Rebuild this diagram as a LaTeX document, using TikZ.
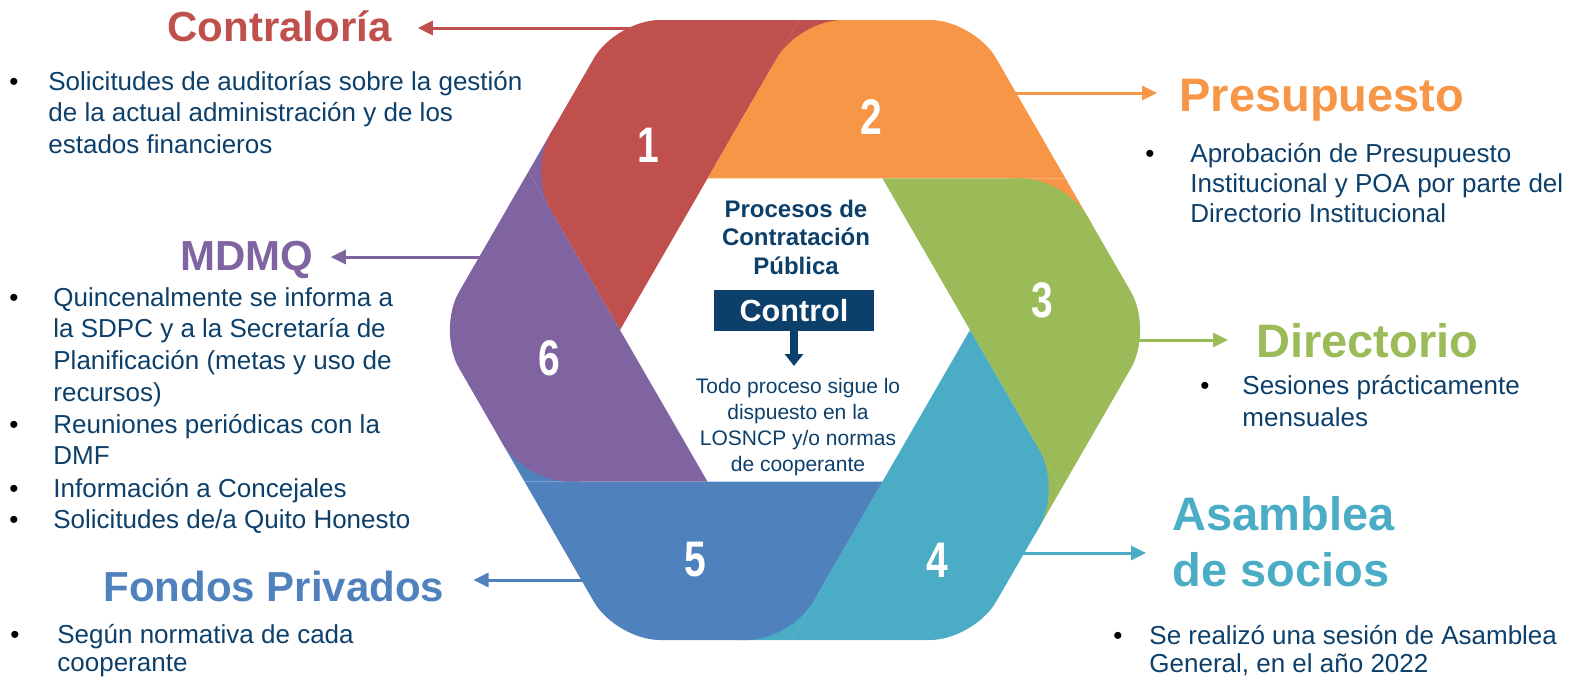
\documentclass[tikz,border=0pt]{standalone}
\usepackage{fontspec}
\setmainfont{Liberation Sans}
\newfontfamily\numfont[FakeStretch=0.78]{Liberation Sans}
\usetikzlibrary{calc,arrows.meta}
\definecolor{cA}{HTML}{C0504D}
\definecolor{cB}{HTML}{F79646}
\definecolor{cC}{HTML}{9BBB59}
\definecolor{cD}{HTML}{4BACC6}
\definecolor{cE}{HTML}{4F81BD}
\definecolor{cF}{HTML}{8064A2}
\definecolor{navy}{HTML}{0D3F6B}
\begin{document}
\begin{tikzpicture}[x=0.5pt,y=-0.5pt,
  lefttitle/.style={anchor=base west,inner sep=0pt,font=\fontsize{21}{25}\selectfont\bfseries},
  righttitle/.style={anchor=base west,inner sep=0pt,align=left,font=\fontsize{23.5}{28}\selectfont\bfseries},
  item/.style={anchor=base west,inner sep=0pt,align=left,text=navy,font=\fontsize{13}{15.8}\selectfont},
  dot/.style={anchor=base,inner sep=0pt,font=\fontsize{13}{15}\selectfont},
  link/.style={line width=1.5pt,-{Triangle[length=7.5pt,width=7pt]}},
  num/.style={text=white,font=\fontsize{25}{25}\selectfont\numfont\bfseries},
  band/.style={rounded corners=22pt}]
\useasboundingbox (0,0) rectangle (1575,680);

\node[lefttitle,text=cA] (contra) at (167,41) {Contraloría};
\node[lefttitle,text=cF] (mdmq) at (180,270) {MDMQ};
\node[lefttitle,text=cE] (fondos) at (103,601) {Fondos Privados};
\node[righttitle,text=cB] (presu) at (1179,111) {Presupuesto};
\node[righttitle,text=cC] (direc) at (1256,357) {Directorio};
\node[righttitle,text=cD] (asamb) at (1172,586) {Asamblea\\de socios};

\node[dot] (d1) at (14,90) {\textbullet};
\node[item] (t1) at (48,153.2) {Solicitudes de auditorías sobre la gestión\\de la actual administración y de los\\estados financieros};
\node[dot] (d2) at (14,306) {\textbullet};
\node[item,font=\fontsize{13}{15.9}\selectfont] (t2) at (53,401.4) {Quincenalmente se informa a\\la SDPC y a la Secretaría de\\Planificación (metas y uso de\\recursos)};
\node[dot] (d3) at (14,433) {\textbullet};
\node[item,font=\fontsize{13}{15.9}\selectfont] (t3) at (53,464.8) {Reuniones periódicas con la\\DMF};
\node[dot] (d4) at (14,497) {\textbullet};
\node[item] (t4) at (53,497) {Información a Concejales};
\node[dot] (d5) at (14,528) {\textbullet};
\node[item] (t5) at (53,528) {Solicitudes de/a Quito Honesto};
\node[dot] (d6) at (15,643) {\textbullet};
\node[item,font=\fontsize{13}{14}\selectfont] (t6) at (57,671) {Según normativa de cada\\cooperante};
\node[dot] (d7) at (1150,162) {\textbullet};
\node[item,font=\fontsize{13}{15}\selectfont] (t7) at (1190,222) {Aprobación de Presupuesto\\Institucional y POA por parte del\\Directorio Institucional};
\node[dot] (d8) at (1205,394) {\textbullet};
\node[item,font=\fontsize{13}{16}\selectfont] (t8) at (1242,426) {Sesiones prácticamente\\mensuales};
\node[dot] (d9) at (1118,644) {\textbullet};
\node[item,font=\fontsize{13}{14}\selectfont] (t9) at (1149,672) {Se realizó una sesión de Asamblea\\General, en el año 2022};

\coordinate (s1) at (660,28);
\coordinate (s2) at (1000,93);
\coordinate (s3) at (1120,340);
\coordinate (s4) at (1005,553);
\coordinate (s5) at (600,580);
\coordinate (s6) at (500,257);
\draw[link,cA,shorten >=13pt] (s1) -- (s1 -| contra.east);
\draw[link,cB,shorten >=11pt] (s2) -- (s2 -| presu.west);
\draw[link,cC,shorten >=14pt] (s3) -- (s3 -| direc.west);
\draw[link,cD,shorten >=13pt] (s4) -- (s4 -| asamb.west);
\draw[link,cE,shorten >=14.5pt] (s5) -- (s5 -| fondos.east);
\draw[link,cF,shorten >=8.5pt] (s6) -- (s6 -| mdmq.east);

\coordinate (L) at (620,330);
\coordinate (TL) at (707.5,178.4);
\coordinate (TR) at (882.5,178.4);
\coordinate (R) at (970,330);
\coordinate (BR) at (882.5,481.6);
\coordinate (BL) at (707.5,481.6);
\coordinate (Lo) at (437,330);
\coordinate (TLo) at (616,20);
\coordinate (TRo) at (974,20);
\coordinate (Ro) at (1153,330);
\coordinate (BRo) at (974,640);
\coordinate (BLo) at (616,640);
\coordinate (B1) at (528.5,171.5);
\coordinate (B2) at (799,20);
\coordinate (B3) at (1065.5,178.4);
\coordinate (B4) at (1061.5,488.5);
\coordinate (B5) at (791,640);
\coordinate (B6) at (524.5,481.6);

\fill[cF] (B1) -- ($(B1)!0.3!(TLo)$) -- ($(B1)!0.3!(L)$) -- cycle;
\fill[cA] (B2) -- ($(B2)!0.3!(TRo)$) -- ($(B2)!0.3!(TL)$) -- cycle;
\fill[cB] (B3) -- ($(B3)!0.3!(Ro)$) -- ($(B3)!0.3!(TR)$) -- cycle;
\fill[cC] (B4) -- ($(B4)!0.3!(BRo)$) -- ($(B4)!0.3!(R)$) -- cycle;
\fill[cD] (B5) -- ($(B5)!0.3!(BLo)$) -- ($(B5)!0.3!(BR)$) -- cycle;
\fill[cE] (B6) -- ($(B6)!0.3!(Lo)$) -- ($(B6)!0.3!(BL)$) -- cycle;

\fill[cA,band] ($(L)!0.5!(B1)$) -- (B1) -- (TLo) -- ($(TLo)!0.5!(B2)$) [sharp corners] -- (B2) -- (L) -- cycle;
\fill[cB,band] ($(TL)!0.5!(B2)$) -- (B2) -- (TRo) -- ($(TRo)!0.5!(B3)$) [sharp corners] -- (B3) -- (TL) -- cycle;
\fill[cC,band] ($(TR)!0.5!(B3)$) -- (B3) -- (Ro) -- ($(Ro)!0.5!(B4)$) [sharp corners] -- (B4) -- (TR) -- cycle;
\fill[cD,band] ($(R)!0.5!(B4)$) -- (B4) -- (BRo) -- ($(BRo)!0.5!(B5)$) [sharp corners] -- (B5) -- (R) -- cycle;
\fill[cE,band] ($(BR)!0.5!(B5)$) -- (B5) -- (BLo) -- ($(BLo)!0.5!(B6)$) [sharp corners] -- (B6) -- (BR) -- cycle;
\fill[cF,band] ($(BL)!0.5!(B6)$) -- (B6) -- (Lo) -- ($(Lo)!0.5!(B1)$) [sharp corners] -- (B1) -- (BL) -- cycle;

\node[num] (n1) at (648,145) {1};
\node[num] (n2) at (871,117) {2};
\node[num] (n3) at (1042,300) {3};
\node[num] (n4) at (937,560) {4};
\node[num] (n5) at (695,560) {5};
\node[num] (n6) at (549,358) {6};

\node[anchor=base,align=center,inner sep=0pt,text=navy,font=\fontsize{12}{14.25}\selectfont\bfseries] (proc) at (796,274) {Procesos de\\Contratación\\Pública};
\node[fill=navy,text=white,inner sep=0pt,minimum width=80pt,minimum height=20.5pt,font=\fontsize{15.3}{18}\selectfont\bfseries] (control) at (794,310.5) {Control};
\coordinate (ctltip) at (794,366);
\draw[navy,line width=4pt,-{Triangle[length=6pt,width=9pt]}] (control) -- (ctltip);
\node[anchor=base,align=center,inner sep=0pt,text=navy,font=\fontsize{10.5}{13}\selectfont] (todo) at (798,471) {Todo proceso sigue lo\\dispuesto en la\\LOSNCP y/o normas\\de cooperante};
\end{tikzpicture}
\end{document}
